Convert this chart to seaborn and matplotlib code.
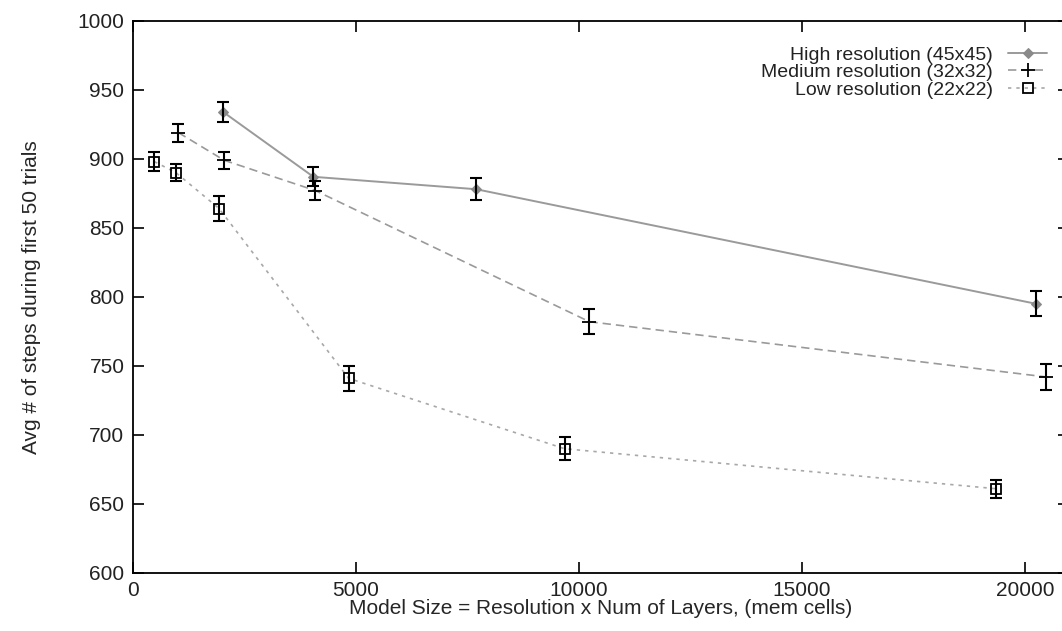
import matplotlib
matplotlib.use("Agg")
import matplotlib.pyplot as plt
import seaborn as sns

# Data
high_x = [2025, 4050, 7700, 20250]
high_y = [934, 887, 878, 795]
high_err = [7, 7, 8, 9]

med_x = [1024, 2048, 4096, 10240, 20480]
med_y = [919, 899, 877, 782, 742]
med_err = [6.5, 6, 7, 9, 9.5]

low_x = [484, 968, 1936, 4840, 9680, 19360]
low_y = [898, 890, 864, 741, 690, 661]
low_err = [7, 6, 9, 9, 8.5, 6.5]

labels = ["High resolution (45x45)", "Medium resolution (32x32)", "Low resolution (22x22)"]

sns.set_style("ticks")
plt.rcParams["font.family"] = ["Liberation Sans", "DejaVu Sans"]
plt.rcParams["text.color"] = "#222222"
plt.rcParams["xtick.color"] = "black"
plt.rcParams["ytick.color"] = "black"
plt.rcParams["xtick.labelcolor"] = "#222222"
plt.rcParams["ytick.labelcolor"] = "#222222"

fig = plt.figure(figsize=(10.62, 6.31), dpi=100)
ax = fig.add_axes([0.125, 0.092, 0.882, 0.875])

# lines + markers
sns.lineplot(x=high_x, y=high_y, ax=ax, color="#9a9a9a", linestyle="-", linewidth=1.4,
             marker="D", markersize=5, markerfacecolor="#8a8a8a", markeredgecolor="#8a8a8a",
             label=labels[0])
sns.lineplot(x=med_x, y=med_y, ax=ax, color="#9a9a9a", linestyle=(0, (5, 3)), linewidth=1.2,
             marker="+", markersize=10, markeredgecolor="black", markeredgewidth=1.3,
             label=labels[1])
sns.lineplot(x=low_x, y=low_y, ax=ax, color="#a8a8a8", linestyle=(0, (2, 3)), linewidth=1.2,
             marker="s", markersize=7, markerfacecolor="none", markeredgecolor="black",
             markeredgewidth=1.3, label=labels[2])

# error bars
for xs, ys, es in [(high_x, high_y, high_err), (med_x, med_y, med_err), (low_x, low_y, low_err)]:
    ax.errorbar(xs, ys, yerr=es, fmt="none", ecolor="black", elinewidth=1.5,
                capsize=4.5, capthick=1.5, zorder=5)

ax.set_xlim(0, 21000)
ax.set_ylim(600, 1000)
ax.set_xticks([0, 5000, 10000, 15000, 20000])
ax.set_yticks(range(600, 1001, 50))
ax.tick_params(direction="in", length=8, width=1.2, top=True, right=True,
               labelsize=15, pad=6)
for s in ax.spines.values():
    s.set_visible(True)
    s.set_linewidth(1.3)
    s.set_color("black")

ax.set_xlabel("Model Size = Resolution x Num of Layers, (mem cells)", fontsize=15, labelpad=-1)
ax.set_ylabel("Avg # of steps during first 50 trials", fontsize=15, labelpad=26)

leg = ax.legend(loc="upper right", bbox_to_anchor=(0.986, 0.927), bbox_transform=fig.transFigure,
                frameon=False, markerfirst=False, fontsize=14, handlelength=2.0,
                labelspacing=0.0, borderpad=0, borderaxespad=0, handletextpad=0.8)
# right-align the legend rows (gnuplot style key)
for col in leg._legend_handle_box.get_children():
    col.align = "right"

fig.savefig("out.png", dpi=100)
